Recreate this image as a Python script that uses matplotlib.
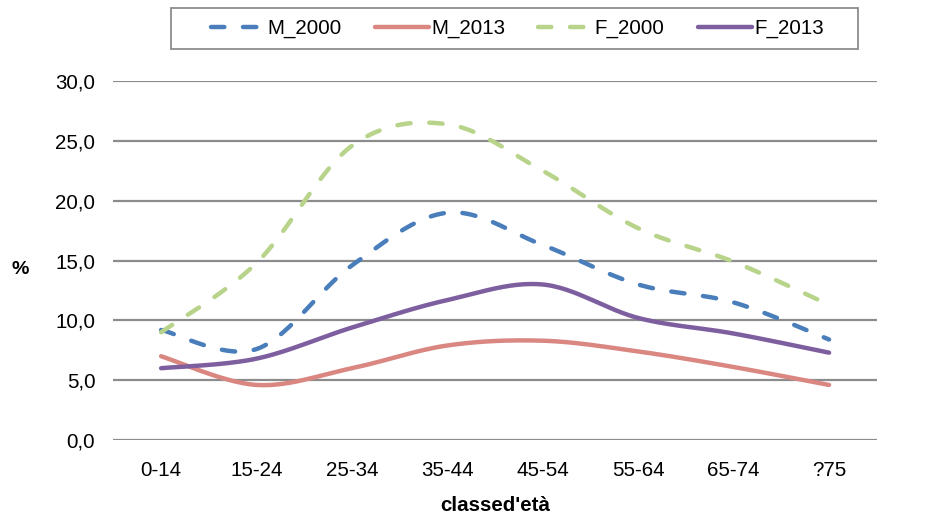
import numpy as np
import matplotlib
matplotlib.use("Agg")
import matplotlib.pyplot as plt
from matplotlib import font_manager as fm
from matplotlib.patches import Rectangle

categories = ["0-14", "15-24", "25-34", "35-44", "45-54", "55-64", "65-74", "?75"]
M_2000 = [9.2, 7.6, 14.6, 19.0, 16.3, 13.0, 11.5, 8.4]
M_2013 = [7.0, 4.6, 6.0, 7.9, 8.3, 7.4, 6.1, 4.6]
F_2000 = [9.0, 14.8, 24.6, 26.4, 22.5, 17.7, 14.9, 11.3]
F_2013 = [6.0, 6.8, 9.4, 11.7, 13.0, 10.2, 8.9, 7.3]
yticks = [0, 5, 10, 15, 20, 25, 30]

names = {f.name for f in fm.fontManager.ttflist}
base = "Liberation Sans" if "Liberation Sans" in names else "DejaVu Sans"


def smooth(x, y, n=30):
    # Catmull-Rom style smoothing as in spreadsheet "smoothed line"
    x = np.asarray(x, float)
    y = np.asarray(y, float)
    P = np.column_stack([x, y])
    P = np.vstack([P[0], P, P[-1]])
    out = []
    t = np.linspace(0, 1, n)
    for i in range(1, len(P) - 2):
        p0, p1, p2, p3 = P[i - 1], P[i], P[i + 1], P[i + 2]
        c1 = p1 + (p2 - p0) / 6.0
        c2 = p2 - (p3 - p1) / 6.0
        seg = ((1 - t) ** 3)[:, None] * p1 + (3 * (1 - t) ** 2 * t)[:, None] * c1 \
            + (3 * (1 - t) * t ** 2)[:, None] * c2 + (t ** 3)[:, None] * p2
        out.append(seg if i == 1 else seg[1:])
    S = np.vstack(out)
    return S[:, 0], S[:, 1]


W, H = 953, 517
fig = plt.figure(figsize=(W / 100, H / 100), dpi=100)
ax = fig.add_axes([0.119, 0.149, 0.801, 0.694])

xs = np.arange(len(categories))
series = [
    ("M_2000", M_2000, "#4A7EBB", True),
    ("M_2013", M_2013, "#DA8782", False),
    ("F_2000", F_2000, "#B8D38A", True),
    ("F_2013", F_2013, "#7D5FA0", False),
]
lw = 3.2
for name, vals, col, dashed in series:
    sx, sy = smooth(xs, vals)
    ln, = ax.plot(sx, sy, color=col, lw=lw, label=name,
                  solid_capstyle="round", dash_capstyle="round", zorder=3)
    if dashed:
        ln.set_dashes((3.0, 4.2))

fs = 14.8
ax.set_xlim(-0.5, len(categories) - 0.5)
ax.set_ylim(0, 30)
ax.set_yticks(yticks)
ax.set_yticklabels([f"{v:.1f}".replace(".", ",") for v in yticks],
                   fontsize=fs, family=base)
ax.set_xticks(xs)
ax.set_xticklabels(categories, fontsize=fs, family=base)
ax.tick_params(axis="both", length=0)
ax.tick_params(axis="y", pad=13)
ax.tick_params(axis="x", pad=15)
for s in ax.spines.values():
    s.set_visible(False)
ax.yaxis.grid(True, color="#8C8C8C", lw=1.6, zorder=0)
ax.set_axisbelow(True)

fig.text(0.021, 0.478, "%", fontsize=14, fontweight="bold", family=base,
         ha="center", va="center")
fig.text(0.52, 0.022, "classed'età", fontsize=fs, fontweight="bold",
         family=base, ha="center", va="center")

# legend frame
x0, y0, x1, y1 = 171, 8, 858, 49
fig.patches.append(Rectangle((x0 / W, 1 - y1 / H), (x1 - x0) / W, (y1 - y0) / H,
                             transform=fig.transFigure, fill=False,
                             edgecolor="#8C8C8C", lw=1.3))
leg = fig.legend(loc="center", bbox_to_anchor=(0.543, 1 - 28.5 / H), ncol=4,
                 frameon=False, prop={"family": base, "size": fs},
                 handlelength=2.65, columnspacing=1.6, handletextpad=0.1,
                 borderpad=0, borderaxespad=0)

fig.savefig("out.png", dpi=100, facecolor="white")
